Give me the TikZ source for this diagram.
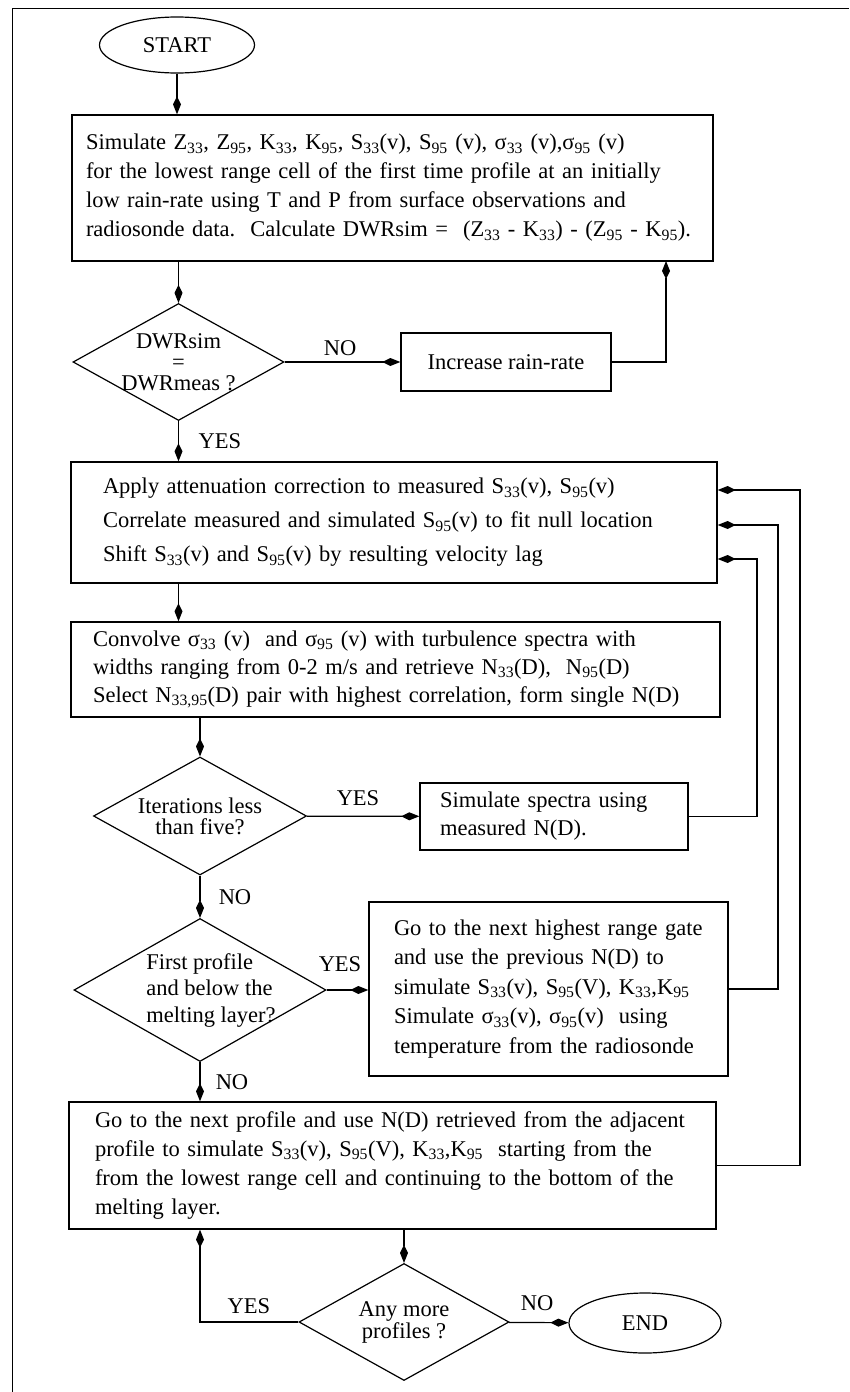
\documentclass[tikz,border=0pt]{standalone}
\usepackage{fontspec}
\setmainfont{Liberation Serif}
\usetikzlibrary{shapes.geometric,arrows.meta}
\newcommand{\subscr}[1]{\textsubscript{#1}}

\begin{document}
\begin{tikzpicture}[x=1pt,y=-1pt,
  font=\fontsize{22.5}{29}\selectfont,
  line width=1.2pt,
  arr/.style={-{Kite[length=18pt,width=8pt,inset=8pt]}},
  procbox/.style={draw, line width=1.4pt, align=left, inner ysep=0pt},
  decision/.style={draw, diamond, inner sep=0pt},
  terminal/.style={draw, ellipse, inner sep=0pt},
  every label/.style={align=center}]
\useasboundingbox (0,0) rectangle (849,1392);
\draw[line width=0.8pt] (12,1392) -- (12,8) -- (849,8);

\node[terminal, minimum width=155pt, minimum height=56pt] (start) at (177,45) {START};
\node[procbox, text width=613pt, inner xsep=14pt, minimum height=146pt] (box1) at (392.5,188) {\mbox{Simulate Z\subscr{33}, Z\subscr{95}, K\subscr{33}, K\subscr{95}, S\subscr{33}(v), S\subscr{95} (v), σ\subscr{33} (v),σ\subscr{95} (v)}\\
\mbox{for the lowest range cell of the first time profile at an initially}\\
\mbox{low rain-rate using T and P from surface observations and}\\
\mbox{radiosonde data.\ \ Calculate DWRsim =\ \ (Z\subscr{33} - K\subscr{33}) - (Z\subscr{95} - K\subscr{95}).}};
\node[decision, minimum width=211pt, minimum height=117pt,
  label={[font=\fontsize{22.5}{21}\selectfont]center:DWRsim\\=\\DWRmeas ?}] (dwr) at (178.5,362) {};
\node[procbox, align=center, inner xsep=0pt, minimum width=210pt, minimum height=58pt] (inc) at (506,362) {Increase rain-rate};
\node[procbox, text width=582pt, inner xsep=32pt, minimum height=121pt, font=\fontsize{22.5}{34}\selectfont] (box2) at (394,522.5) {\mbox{Apply attenuation correction to measured S\subscr{33}(v), S\subscr{95}(v)}\\
\mbox{Correlate measured and simulated S\subscr{95}(v) to fit null location}\\
\mbox{Shift S\subscr{33}(v) and S\subscr{95}(v) by resulting velocity lag}};
\node[procbox, text width=605pt, inner xsep=22pt, minimum height=95pt, font=\fontsize{22.5}{28}\selectfont] (box3) at (395.5,669.5) {\mbox{Convolve σ\subscr{33} (v)\ \ and σ\subscr{95} (v) with turbulence spectra with}\\
\mbox{widths ranging from 0-2 m/s and retrieve N\subscr{33}(D),\ \ N\subscr{95}(D)}\\
\mbox{Select N\subscr{33,95}(D) pair with highest correlation, form single N(D)}};
\node[decision, minimum width=213pt, minimum height=118pt,
  label={[font=\fontsize{22.5}{21}\selectfont]center:Iterations less\\than five?}] (iter) at (200,816) {};
\node[procbox, text width=228pt, inner xsep=20pt, minimum height=67pt, font=\fontsize{22.5}{28}\selectfont] (sim) at (554,816.5) {Simulate spectra using\\measured N(D).};
\node[decision, minimum width=252pt, minimum height=143pt,
  label={[align=left, xshift=11pt, font=\fontsize{22.5}{26.5}\selectfont]center:First profile\\and below the\\melting layer?}] (first) at (200,990) {};
\node[procbox, text width=309pt, inner xsep=25pt, minimum height=174pt, font=\fontsize{22.5}{29.5}\selectfont] (box4) at (548.5,989) {\mbox{Go to the next highest range gate}\\
\mbox{and use the previous N(D) to}\\
\mbox{simulate S\subscr{33}(v), S\subscr{95}(V), K\subscr{33},K\subscr{95}}\\
\mbox{Simulate σ\subscr{33}(v), σ\subscr{95}(v)\ \ using}\\
\mbox{temperature from the radiosonde}};
\node[procbox, text width=595pt, inner xsep=26pt, minimum height=127pt] (box5) at (392.5,1165.5) {\mbox{Go to the next profile and use N(D) retrieved from the adjacent}\\
\mbox{profile to simulate S\subscr{33}(v), S\subscr{95}(V), K\subscr{33},K\subscr{95}\ \ starting from the}\\
\mbox{from the lowest range cell and continuing to the bottom of the}\\
\mbox{melting layer.}};
\node[decision, minimum width=210pt, minimum height=117pt,
  label={[font=\fontsize{22.5}{22}\selectfont]center:Any more\\profiles ?}] (more) at (404,1322) {};
\node[terminal, minimum width=152pt, minimum height=60pt] (stop) at (645,1323) {END};

\node (no1) at (340,348) {NO};
\node (yes1) at (220,441) {YES};
\node (yes2) at (358,798) {YES};
\node (no2) at (235,897) {NO};
\node (yes3) at (340,964) {YES};
\node (no3) at (232,1082) {NO};
\node (yes4) at (249,1306) {YES};
\node (no4) at (537,1303) {NO};

\coordinate (up1) at (666,261);
\coordinate (r1) at (800,490);
\coordinate (r2) at (778,525);
\coordinate (r3) at (757,559);

\draw[arr] (start) -- (start |- box1.north);
\draw[arr] (dwr |- box1.south) -- (dwr);
\draw[arr] (dwr) -- (inc);
\draw[arr] (inc) -| (up1);
\draw[arr] (dwr) -- (dwr |- box2.north);
\draw[arr] (box2.south -| dwr) -- (box3.north -| dwr);
\draw[arr] (iter |- box3.south) -- (iter);
\draw[arr] (iter) -- (sim);
\draw[arr] (sim) -| (r3) -- (r3 -| box2.east);
\draw[arr] (iter) -- (first);
\draw[arr] (first.east) -- (first.east -| box4.west);
\draw[arr] (box4) -| (r2) -- (r2 -| box2.east);
\draw[arr] (first) -- (first |- box5.north);
\draw[arr] (box5) -| (r1) -- (r1 -| box2.east);
\draw[arr] (more |- box5.south) -- (more);
\draw[arr] (more) -| (first |- box5.south);
\draw[arr] (more) -- (stop);
\end{tikzpicture}
\end{document}
